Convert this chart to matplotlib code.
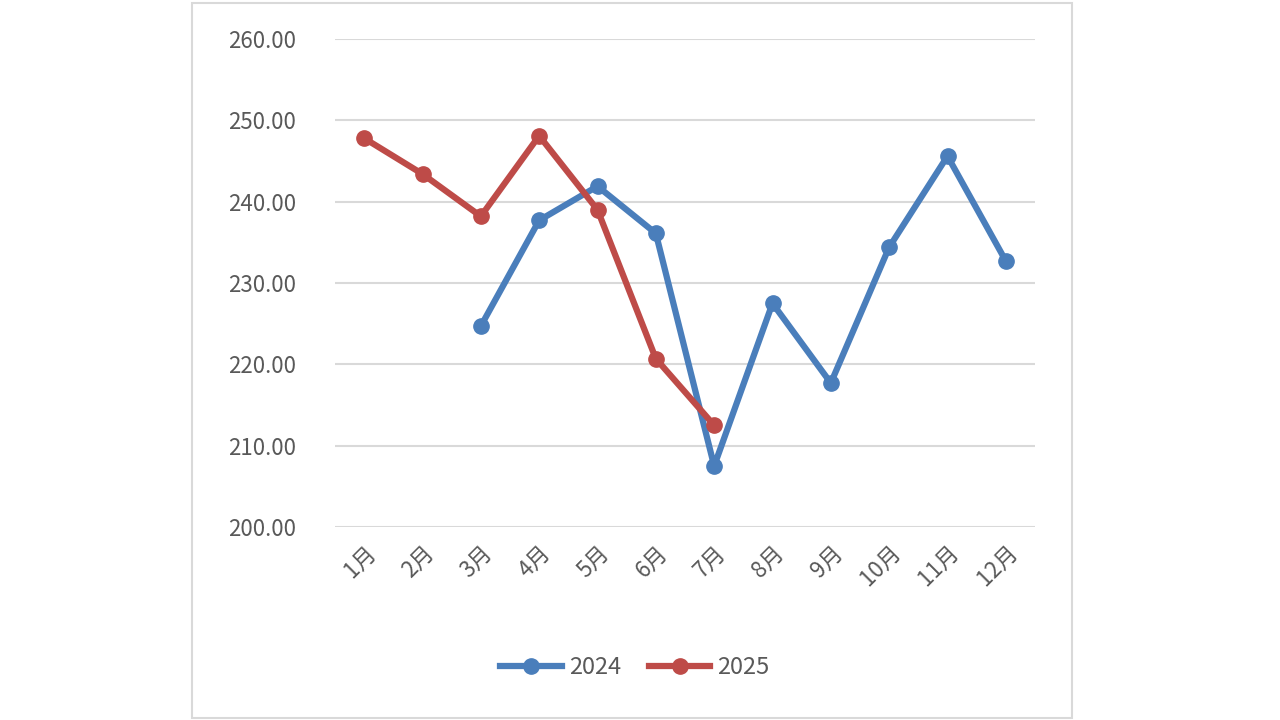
import numpy as np
import matplotlib.pyplot as plt
from matplotlib.patches import Rectangle

plt.rcParams['font.family'] = ['Noto Sans CJK SC', 'DejaVu Sans']

months = ['1月', '2月', '3月', '4月', '5月', '6月', '7月', '8月', '9月', '10月', '11月', '12月']
y2024 = [np.nan, np.nan, 224.7, 237.7, 241.9, 236.1, 207.5, 227.5, 217.7, 234.4, 245.6, 232.7]
y2025 = [247.8, 243.4, 238.2, 248.1, 239.0, 220.7, 212.5]

fig = plt.figure(figsize=(12.8, 7.2), dpi=100)
fig.patches.append(Rectangle((192 / 1280, 2 / 720), 880 / 1280, 715 / 720,
                             transform=fig.transFigure, fill=False,
                             edgecolor='#d9d9d9', linewidth=1.5))

ax = fig.add_axes([335 / 1280, 1 - 527 / 720, 700 / 1280, 488 / 720])
x = np.arange(len(months))
ax.plot(x, y2024, color='#4a7ebb', lw=4.5, marker='o', ms=11, label='2024')
ax.plot(x[:len(y2025)], y2025, color='#be4b48', lw=4.5, marker='o', ms=11, label='2025')

ax.set_xlim(-0.5, 11.5)
ax.set_ylim(200, 260)
ax.set_yticks(np.arange(200, 261, 10))
ax.set_yticklabels([f'{v:.2f}' for v in range(200, 261, 10)])
ax.set_xticks(x)
ax.set_xticklabels(months, rotation=45, ha='right', rotation_mode='anchor')
ax.tick_params(colors='#595959', labelsize=16, length=0)
ax.tick_params(axis='y', pad=28)
ax.tick_params(axis='x', pad=10)
ax.grid(axis='y', color='#d9d9d9', lw=1.5)
ax.set_axisbelow(True)
for s in ax.spines.values():
    s.set_visible(False)

fig.legend(loc='center', bbox_to_anchor=(635 / 1280, 1 - 668 / 720), ncol=2,
           frameon=False, fontsize=17, labelcolor='#595959', handlelength=2.6,
           columnspacing=1.2, handletextpad=0.3)

fig.savefig('out.png', dpi=100, facecolor='white')
